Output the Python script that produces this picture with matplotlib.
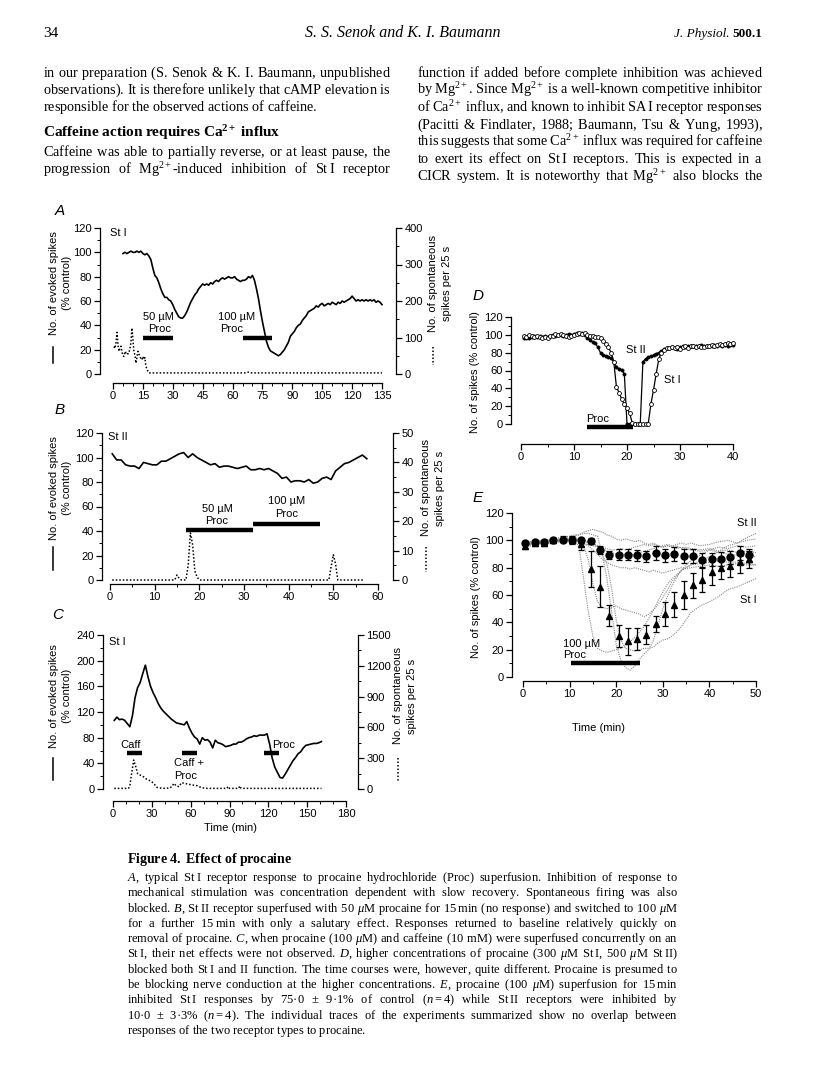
import numpy as np
import matplotlib
matplotlib.use("Agg")
import matplotlib.pyplot as plt

plt.rcParams['font.family'] = ['Liberation Sans', 'DejaVu Sans']
# page text goes through mathtext so that whole lines share one baseline
plt.rcParams['mathtext.fontset'] = 'custom'
plt.rcParams['mathtext.rm'] = 'Liberation Serif'
plt.rcParams['mathtext.it'] = 'Liberation Serif:italic'
plt.rcParams['mathtext.bf'] = 'Liberation Serif:bold'

# ---------------- data ----------------
# A: St I, 50 and 100 uM procaine
a_t = np.arange(5, 136)
a_evoked = [99, 100, 99, 100, 101, 100, 100, 101, 100, 101,
            99, 98, 99, 97, 94, 87, 81, 79, 75, 70,
            66, 63, 63, 61, 60, 57, 53, 50, 47, 46,
            46, 48, 51, 55, 59, 62, 65, 67, 70, 72,
            74, 73, 74, 73, 75, 74, 76, 77, 76, 78,
            79, 78, 79, 80, 79, 79, 80, 78, 77, 76,
            77, 77, 78, 80, 79, 81, 77, 70, 62, 52,
            43, 35, 27, 22, 19, 18, 17, 16, 15, 16,
            18, 20, 23, 26, 31, 33, 35, 38, 40, 41,
            44, 46, 48, 51, 52, 53, 54, 56, 55, 57,
            58, 56, 57, 58, 57, 59, 58, 57, 59, 58,
            60, 59, 60, 61, 62, 64, 62, 60, 61, 60,
            61, 60, 61, 60, 61, 60, 61, 59, 60, 59,
            57]
a_spont_t = [0.5, 1, 1.5, 2, 2.5, 3, 3.5, 4, 4.5, 5, 5.5, 6, 6.5, 7, 7.5, 8, 8.5, 9,
             9.5, 10, 10.5, 11, 11.5, 12, 12.5, 13, 13.5, 14, 14.5, 15, 15.5, 16, 16.5, 17,
             17.5, 18, 20, 40, 67, 68, 69, 100, 135]
a_spont = [75, 70, 85, 114, 80, 62, 72, 76, 60, 50, 48, 62, 58, 60, 55, 58, 70, 85,
           126, 95, 60, 53, 30, 45, 62, 55, 48, 42, 39, 48, 40, 45, 21, 15,
           8, 3, 3, 3, 3, 5, 3, 3, 3]
a_bars = [(15, 30, 30), (65, 80, 30)]

# B: St II
b_t = np.arange(0.5, 58, 1)
b_evoked = [103, 98, 98, 94, 93, 93, 91, 96, 95, 94,
            94, 97, 97, 99, 101, 103, 104, 100, 103, 100,
            98, 96, 94, 95, 92, 93, 93, 92, 91, 92,
            93, 90, 90, 91, 90, 91, 89, 87, 83, 84,
            80, 81, 81, 80, 82, 79, 80, 83, 84, 82,
            89, 92, 95, 96, 98, 100, 102, 99]
b_spont_t = [0.5, 14.5, 15, 15.5, 16, 17, 17.5, 18, 18.5, 19, 19.5, 20, 49, 49.5, 50, 50.5, 51, 57]
b_spont = [0, 0, 1.7, 0.5, 0, 0, 5, 16, 12, 3, 1, 0, 0, 4.5, 8.6, 5.5, 0, 0]
b_bars = [(17, 32, 40.5), (32, 47, 45.5)]

# C: St I, caffeine and procaine
c_t = np.arange(1, 162, 2)
c_evoked = [107, 112, 108, 109, 107, 102, 97, 114, 142, 158,
            166, 180, 193, 175, 160, 150, 142, 133, 126, 121,
            117, 113, 109, 106, 103, 102, 101, 100, 105, 95,
            87, 81, 78, 70, 80, 76, 77, 73, 64, 76,
            72, 71, 69, 66, 67, 68, 70, 70, 73, 73,
            75, 78, 80, 81, 83, 82, 84, 84, 84, 86,
            70, 48, 34, 26, 18, 17, 23, 30, 37, 44,
            49, 55, 58, 64, 68, 69, 70, 71, 71, 72,
            74]
c_spont_t = [1, 12, 13, 14, 15, 16, 17, 18, 19, 20, 22, 24, 26, 28, 30, 32, 34, 36, 40, 44,
             46, 47, 49, 51, 53, 55, 57, 59, 61, 63, 65, 67, 70, 73, 88, 89, 90, 97, 98, 99, 161]
c_spont = [6, 6, 30, 120, 200, 282, 240, 200, 150, 140, 130, 115, 95, 85, 70, 45, 16, 10, 6, 10,
           32, 55, 29, 23, 62, 55, 50, 45, 40, 35, 32, 20, 10, 6, 6, 25, 6, 6, 30, 6, 6]
c_bars = [(11, 22.5, 56.6), (53, 65, 56.6), (117, 128.5, 56.6)]

# D: high procaine, St I (open) and St II (filled)
d_t = np.arange(0.5, 40.5, 0.5)
d_st1 = [99, 98, 100, 99, 98, 99, 98, 97, 98, 97,
         99, 99, 101, 100, 101, 100, 99, 98, 99, 100,
         101, 102, 101, 102, 100, 99, 99, 98, 98, 96,
         93, 90, 86, 80, 70, 42, 35, 28, 22, 18,
         12, 1, 0, 0, 0, 0, 0, 0, 22, 38,
         56, 73, 80, 83, 85, 85, 86, 85, 86, 84,
         86, 87, 85, 87, 88, 86, 87, 86, 86, 87,
         88, 89, 88, 89, 90, 89, 90, 91, 90, 91]
d_st2 = [96, 97, 97, 98, 99, 98, 99, 98, 99, 98,
         99, 100, 99, 100, 100, 99, 100, 101, 100, 101,
         102, 101, 102, 100, 97, 94, 92, 91, 86, 80,
         77, 76, 75, 74, 70, 64, 62, 61, 56, 0,
         0, 0, 0, 0, 0, 70, 73, 75, 76, 77,
         79, 80, 82, 84, 85, 85, 86, 85, 84, 86,
         87, 86, 88, 87, 87, 88, 88, 89, 88, 87,
         88, 88, 89, 88, 89, 88, 89, 88, 89, 89]
d_bar = (12.4, 21.2, -3.7)

# E: 100 uM procaine, means +/- s.e.m. and individual traces
e_t = np.arange(0.5, 49, 2)
e_st2 = [98, 98.5, 98.5, 100, 100.5, 100.5, 100, 99.5, 93, 89, 89.5, 89.5, 89,
         88.5, 90.5, 89, 90, 88.5, 88.5, 85.5, 86, 86.5, 87.5, 90.5, 89]
e_st2_err = [1.5, 1.5, 1.5, 1.5, 1.5, 2, 2, 2, 3, 3, 4, 4, 4, 4, 5, 5, 5, 5, 5, 5, 5, 5, 5, 5, 5]
e_st1 = [96, 98, 98, 100, 101, 100, 97, 79, 66, 45, 30, 26, 28, 31, 39, 46, 53, 60, 67,
         71, 77, 80, 81, 84, 86]
e_st1_err = [2, 2, 2, 2, 2, 3, 4, 13, 15, 8, 8, 10, 8, 7, 6, 9, 9, 10, 9, 9, 10, 8, 8, 8, 6]
e_bar = (10.3, 25.1, 10.2)

tr_t = [0, 2, 4, 6, 8, 10,
        11, 12, 13, 14, 15, 16, 17, 18, 19, 20,
        21, 22, 23, 24, 25, 26, 27, 28, 29, 30,
        31, 32, 33, 34, 35, 36,
        38, 40, 42, 44, 46, 48, 50]
tr_st2_a = [97, 98, 99, 100, 101, 102,
            103, 104, 106, 107, 108, 107, 106, 104, 103, 101,
            100, 101, 100, 99, 100, 98, 97, 98, 96, 95,
            96, 95, 96, 94, 95, 94,
            93, 94, 92, 93, 91, 92, 91]
tr_st2_b = [96, 97, 98, 99, 100, 100,
            101, 100, 99, 98, 97, 96, 94, 92, 91, 90,
            89, 90, 89, 90, 91, 92, 93, 94, 95, 96,
            97, 96, 97, 98, 97, 98,
            96, 97, 99, 100, 98, 102, 105]
tr_st2_c = [95, 96, 97, 98, 99, 100,
            100, 99, 98, 96, 93, 90, 86, 84, 82, 81,
            80, 80, 79, 80, 79, 78, 77, 78, 77, 76,
            77, 78, 79, 80, 79, 80,
            81, 82, 81, 82, 83, 82, 82]
tr_st2_d = [98, 99, 100, 100, 101, 101,
            102, 101, 100, 99, 98, 96, 95, 94, 93, 93,
            94, 93, 94, 95, 96, 97, 96, 97, 96, 95,
            96, 95, 94, 95, 94, 93,
            92, 93, 91, 90, 89, 88, 88]
tr_st1_a = [96, 97, 98, 99, 100, 100,
            99, 96, 72, 48, 30, 21, 19, 18, 19, 20,
            21, 23, 26, 29, 33, 37, 43, 49, 56, 62,
            68, 72, 75, 78, 80, 82,
            85, 88, 92, 96, 98, 100, 101]
tr_st1_b = [98, 99, 100, 101, 102, 103,
            104, 104, 105, 105, 104, 103, 90, 72, 48, 24,
            12, 7, 5, 8, 13, 17, 20, 27, 38, 50,
            59, 67, 73, 78, 82, 85,
            89, 93, 95, 94, 96, 95, 96]
tr_st1_c = [97, 98, 99, 100, 100, 101,
            101, 100, 96, 86, 68, 55, 51, 50, 51, 52,
            50, 49, 48, 47, 46, 44, 46, 49, 53, 58,
            64, 70, 74, 78, 80, 82,
            83, 84, 85, 84, 84, 83, 82]
tr_st1_d = [96, 97, 98, 99, 99, 99,
            98, 98, 97, 97, 96, 95, 90, 83, 65, 42,
            27, 21, 20, 19, 20, 21, 21, 22, 25, 27,
            28, 30, 33, 37, 42, 47,
            52, 55, 59, 64, 66, 69, 72]

# ---------------- page text ----------------
body_left_a = ["in our preparation (S. Senok & K. I. Baumann, unpublished",
               "observations). It is therefore unlikely that cAMP elevation is",
               "responsible for the observed actions of caffeine."]
body_heading = r"$\mathbf{Caffeine\ action\ requires\ Ca^{2+}\ influx}$"
body_left_b = ["Caffeine was able to partially reverse, or at least pause, the",
               r"progression of Mg$^{2+}$-induced inhibition of St~I receptor"]
body_right = ["function if added before complete inhibition was achieved",
              r"by Mg$^{2+}$. Since Mg$^{2+}$ is a well-known competitive inhibitor",
              r"of Ca$^{2+}$ influx, and known to inhibit SA~I receptor responses",
              "(Pacitti & Findlater, 1988; Baumann, Tsu & Yung, 1993),",
              r"this suggests that some Ca$^{2+}$ influx was required for caffeine",
              r"to exert its effect on St~I receptors. This is expected in a",
              r"CICR system. It is noteworthy that Mg$^{2+}$ also blocks the"]
caption_title = r"$\mathbf{Figure\ 4.\ Effect\ of\ procaine}$"
caption_lines = [
    r"$\mathit{A}$, typical St~I receptor response to procaine hydrochloride (Proc) superfusion. Inhibition of response to",
    "mechanical stimulation was concentration dependent with slow recovery. Spontaneous firing was also",
    r"blocked. $\mathit{B}$, St~II receptor superfused with 50 $\mu$M procaine for 15~min (no response) and switched to 100 $\mu$M",
    "for a further 15~min with only a salutary effect. Responses returned to baseline relatively quickly on",
    r"removal of procaine. $\mathit{C}$, when procaine (100 $\mu$M) and caffeine (10 mM) were superfused concurrently on an",
    r"St~I, their net effects were not observed. $\mathit{D}$, higher concentrations of procaine (300 $\mu$M St~I, 500 $\mu$M St~II)",
    "blocked both St~I and II function. The time courses were, however, quite different. Procaine is presumed to",
    r"be blocking nerve conduction at the higher concentrations. $\mathit{E}$, procaine (100 $\mu$M) superfusion for 15~min",
    r"inhibited St~I responses by 75·0 ± 9·1% of control ($n=4$) while St~II receptors were inhibited by",
    r"10·0 ± 3·3% ($n=4$). The individual traces of the experiments summarized show no overlap between",
    "responses of the two receptor types to procaine."]

# ---------------- figure ----------------
W, H = 816, 1088
fig = plt.figure(figsize=(W / 100, H / 100), dpi=100)
page = fig.add_axes([0, 0, 1, 1])
page.set_xlim(0, W)
page.set_ylim(H, 0)
page.axis('off')
rend = fig.canvas.get_renderer()

SERIF = 'Liberation Serif'
TS = 8   # chart text size


def measure(s, size):
    t = page.text(0, 0, s, fontsize=size, family=SERIF)
    w = t.get_window_extent(rend).width
    t.remove()
    return w


def put_line(s, x0, x1, y, size, justify=True):
    # one text object per line, word gaps set with \hspace to justify it
    words = s.replace('~', r'$\hspace{0.22}$').split(' ')
    unit = (measure(r'x$\hspace{10}$x', size) - measure(r'x$\hspace{0}$x', size)) / 10
    w0 = measure(r'$\hspace{0}$'.join(words), size)
    gap = 0.25 * size * 100 / 72
    if justify and len(words) > 1:
        gap = max((x1 - x0 - w0) / (len(words) - 1), 0.12 * size)
    sep = r'$\hspace{%.4f}$' % (gap / unit)
    page.text(x0, y, sep.join(words), fontsize=size, family=SERIF, va='baseline', ha='left')


# header
page.text(43, 37, '34', family=SERIF, fontsize=11, va='baseline')
page.text(403, 37, 'S. S. Senok and K. I. Baumann', family=SERIF, style='italic',
          fontsize=11.5, ha='center', va='baseline')
vol = page.text(762, 37, '500.1', family=SERIF, fontweight='bold', fontsize=9.5,
                ha='right', va='baseline')
vw = vol.get_window_extent(rend).width
page.text(762 - vw - 2, 37, 'J. Physiol.', family=SERIF, style='italic', fontsize=9.5,
          ha='right', va='baseline')

# body columns
BS = 10.3
for i, s in enumerate(body_left_a):
    put_line(s, 43, 391, 77 + 17.2 * i, BS, justify=(i < 2))
page.text(43, 136.5, body_heading, fontsize=11, family=SERIF, va='baseline')
for i, s in enumerate(body_left_b):
    put_line(s, 43, 391, 156 + 17.6 * i, BS)
for i, s in enumerate(body_right):
    put_line(s, 417, 763, 77 + 17.3 * i, BS)

# caption
page.text(127, 863, caption_title, fontsize=10, family=SERIF, va='baseline')
for i, s in enumerate(caption_lines):
    put_line(s, 127, 678, 881 + 15.3 * i, 9.0, justify=(i < len(caption_lines) - 1))


# ---------------- panels ----------------
def make_panel(left, right, top, y0_px, bottom, x0_px, xend_px, xmax, ymax,
               xmaj, xmin, ymaj, ymin):
    ax = fig.add_axes([left / W, 1 - bottom / H, (right - left) / W, (bottom - top) / H])
    ax.patch.set_visible(False)
    sx = (xend_px - x0_px) / xmax
    sy = (y0_px - top) / ymax
    ax.set_xlim((left - x0_px) / sx, (right - x0_px) / sx)
    ax.set_ylim(-(bottom - y0_px) / sy, ymax)
    ax.spines['top'].set_visible(False)
    ax.spines['right'].set_visible(False)
    ax.spines['left'].set_bounds(0, ymax)
    ax.spines['bottom'].set_bounds(0, xmax)
    for s in ['left', 'bottom']:
        ax.spines[s].set_linewidth(0.9)
    ax.set_xticks(np.arange(0, xmax + 1, xmaj))
    ax.set_xticks(np.arange(0, xmax + 1, xmin), minor=True)
    ax.set_yticks(np.arange(0, ymax + 1, ymaj))
    ax.set_yticks(np.arange(0, ymax + 1, ymin), minor=True)
    ax.tick_params(which='major', length=4, width=0.9, labelsize=TS, pad=2)
    ax.tick_params(which='minor', length=2.2, width=0.7)
    return ax


def add_right(ax, rmax, rmaj, rmin):
    tw = ax.twinx()
    lo, hi = ax.get_ylim()
    tw.set_ylim(lo * rmax / hi, rmax)
    for s in ['top', 'left', 'bottom']:
        tw.spines[s].set_visible(False)
    tw.spines['right'].set_bounds(0, rmax)
    tw.spines['right'].set_linewidth(0.9)
    tw.set_yticks(np.arange(0, rmax + 1, rmaj))
    tw.set_yticks(np.arange(0, rmax + 1, rmin), minor=True)
    tw.tick_params(which='major', length=4, width=0.9, labelsize=TS, pad=2)
    tw.tick_params(which='minor', length=2.2, width=0.7)
    return tw


def bars(ax, spans):
    for x0, x1, y in spans:
        ax.plot([x0, x1], [y, y], color='k', lw=3.2, solid_capstyle='butt')


def ptext(x, y, s, **kw):
    kw.setdefault('fontsize', TS)
    page.text(x, y, s, **kw)


DOT = (0, (1, 1.3))


def dual_labels(xl, xr, yc, seg):
    ptext(xl, yc, 'No. of evoked spikes', rotation=90, ha='center', va='center')
    ptext(xl + 13, yc, '(% control)', rotation=90, ha='center', va='center')
    page.plot([xl - 1, xl - 1], [seg[0], seg[1]], color='k', lw=1.1)
    ptext(xr, yc, 'No. of spontaneous', rotation=90, ha='center', va='center')
    ptext(xr + 14, yc, 'spikes per 25 s', rotation=90, ha='center', va='center')
    page.plot([xr, xr], [seg[0], seg[1] + 2], color='k', lw=1.1, ls=DOT)


# A
axA = make_panel(100, 396, 228, 374, 383, 113, 382, 135, 120, 15, 5, 20, 10)
axA.plot(a_t, a_evoked, color='k', lw=1.2)
twA = add_right(axA, 400, 100, 50)
twA.plot(a_spont_t, a_spont, color='k', lw=1.1, ls=DOT)
bars(axA, a_bars)
ptext(55, 215, 'A', fontsize=11, style='italic')
ptext(110, 233, 'St I', va='center')
ptext(158, 317, '50 µM', ha='center', va='center')
ptext(160, 329, 'Proc', ha='center', va='center')
ptext(237, 317, '100 µM', ha='center', va='center')
ptext(232, 329, 'Proc', ha='center', va='center')
dual_labels(54, 433, 283, (347, 363))

# B
axB = make_panel(102, 393, 433, 580, 584, 110, 378, 60, 120, 10, 5, 20, 10)
axB.plot(b_t, b_evoked, color='k', lw=1.2)
twB = add_right(axB, 50, 10, 5)
twB.plot(b_spont_t, b_spont, color='k', lw=1.1, ls=DOT)
bars(axB, b_bars)
ptext(55, 414, 'B', fontsize=11, style='italic')
ptext(108, 437, 'St II', va='center')
ptext(217, 509, '50 µM', ha='center', va='center')
ptext(217, 521, 'Proc', ha='center', va='center')
ptext(287, 501, '100 µM', ha='center', va='center')
ptext(287, 514, 'Proc', ha='center', va='center')
dual_labels(54, 426, 488, (547, 570))

# C
axC = make_panel(103, 358, 635, 789, 801, 113, 346, 180, 240, 30, 10, 40, 20)
axC.plot(c_t, c_evoked, color='k', lw=1.2)
twC = add_right(axC, 1500, 300, 150)
twC.plot(c_spont_t, c_spont, color='k', lw=1.1, ls=DOT)
bars(axC, c_bars)
ptext(52, 619, 'C', fontsize=11, style='italic')
ptext(109, 642, 'St I', va='center')
ptext(131, 745, 'Caff', ha='center', va='center')
ptext(189, 763, 'Caff +', ha='center', va='center')
ptext(186, 776, 'Proc', ha='center', va='center')
ptext(284, 745, 'Proc', ha='center', va='center')
ptext(231, 828, 'Time (min)', ha='center', va='center')
dual_labels(54, 398, 696, (758, 780))

# D
axD = make_panel(511, 736, 317, 424, 444, 521, 733, 40, 120, 10, 5, 20, 10)
axD.plot(d_t, d_st2, color='k', lw=0.9, marker='o', ms=2.3, mfc='k', mec='k', mew=0.5)
axD.plot(d_t, d_st1, color='k', lw=0.9, marker='o', ms=2.8, mfc='white', mec='k', mew=0.6)
bars(axD, [d_bar])
ptext(473, 300, 'D', fontsize=11, style='italic')
ptext(475, 372, 'No. of spikes (% control)', rotation=90, ha='center', va='center')
ptext(598, 419, 'Proc', ha='center', va='center')
ptext(636, 350, 'St II', ha='center', va='center')
ptext(672, 380, 'St I', ha='center', va='center')

# E
axE = make_panel(512, 758, 513, 677, 681, 523, 756, 50, 120, 10, 5, 20, 10)
for tr in [tr_st2_a, tr_st2_b, tr_st2_c, tr_st2_d, tr_st1_a, tr_st1_b, tr_st1_c, tr_st1_d]:
    axE.plot(tr_t, tr, color='#888888', lw=0.8, ls=(0, (1, 1)))
axE.errorbar(e_t, e_st1, yerr=e_st1_err, fmt='^', color='k', ms=4.5, capsize=2.2,
             elinewidth=0.9, capthick=0.9)
axE.errorbar(e_t, e_st2, yerr=e_st2_err, fmt='o', color='k', ms=5, capsize=2.2,
             elinewidth=0.9, capthick=0.9)
bars(axE, [e_bar])
ptext(473, 502, 'E', fontsize=11, style='italic')
ptext(476, 597, 'No. of spikes (% control)', rotation=90, ha='center', va='center')
ptext(563, 644, '100 µM', ha='left', va='center')
ptext(563, 655, 'Proc', ha='left', va='center')
ptext(757, 523, 'St II', ha='right', va='center')
ptext(757, 600, 'St I', ha='right', va='center')
ptext(599, 728, 'Time (min)', ha='center', va='center')

fig.savefig('out.png', dpi=100)
